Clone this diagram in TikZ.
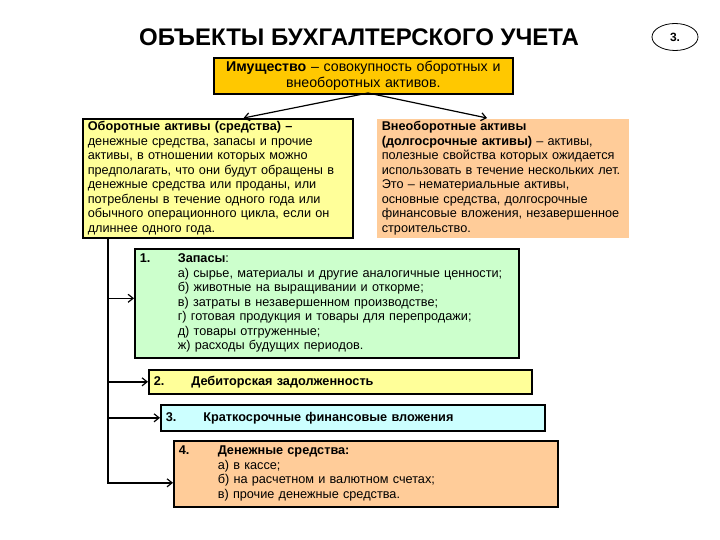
\documentclass[tikz,border=0pt]{standalone}
\usepackage{fontspec}
\setmainfont{Liberation Sans}
\usetikzlibrary{arrows.meta,shapes.geometric}
\definecolor{gold}{HTML}{FFC800}
\definecolor{ltyellow}{HTML}{FFFF99}
\definecolor{peach}{HTML}{FFCC99}
\definecolor{ltgreen}{HTML}{CCFFCC}
\definecolor{ltcyan}{HTML}{CCFFFF}
\newcommand{\bodyfont}{\fontsize{12.7}{14.5}\selectfont}
\tikzset{
  box/.style={draw=black, line width=1.6pt, anchor=north west, inner xsep=5pt, inner ysep=2pt, align=left, font=\bodyfont},
  conn/.style={line width=1.6pt, -{Straight Barb[length=5pt,width=8pt,line width=1.2pt]}},
  split/.style={line width=1.2pt, -{Straight Barb[length=5pt,width=8pt,line width=1.2pt]}},
}
\begin{document}
\begin{tikzpicture}[x=1pt,y=-1pt]
\useasboundingbox (0,0) rectangle (720,540);
% title
\node[font=\fontsize{24}{26}\selectfont\bfseries] (title) at (359,37) {ОБЪЕКТЫ БУХГАЛТЕРСКОГО УЧЕТА};
\node[draw, ellipse, line width=0.8pt, minimum width=46pt, minimum height=27pt, inner sep=0pt, font=\fontsize{12}{14}\selectfont\bfseries] (num) at (675,37) {3.};
% top
\node[box, fill=gold, minimum width=299pt, minimum height=36pt, align=center, text width=289pt, font=\fontsize{14.2}{16}\selectfont] (top) at (213,57)
  {\textbf{Имущество} – совокупность оборотных и\\внеоборотных активов.};
% left
\node[box, fill=ltyellow, minimum width=270pt, minimum height=119pt, text width=260pt] (left) at (82,118)
  {\textbf{Оборотные активы (средства) –}\\
   денежные средства, запасы и прочие\\
   активы, в отношении которых можно\\
   предполагать, что они будут обращены в\\
   денежные средства или проданы, или\\
   потреблены в течение одного года или\\
   обычного операционного цикла, если он\\
   длиннее одного года.};
% right
\node[box, draw=none, fill=peach, minimum width=252pt, minimum height=119pt, text width=242pt] (right) at (376,118)
  {\textbf{Внеоборотные активы}\\
   \textbf{(долгосрочные активы)} – активы,\\
   полезные свойства которых ожидается\\
   использовать в течение нескольких лет.\\
   Это – нематериальные активы,\\
   основные средства, долгосрочные\\
   финансовые вложения, незавершенное\\
   строительство.};
% box 1
\node[box, fill=ltgreen, minimum width=384pt, minimum height=109pt, text width=374pt] (b1) at (134,248)
  {\begin{tabular}{@{}p{38pt}@{}l@{}}
   \textbf{1.} & \textbf{Запасы}:\\
   & а) сырье, материалы и другие аналогичные ценности;\\
   & б) животные на выращивании и откорме;\\
   & в) затраты в незавершенном производстве;\\
   & г) готовая продукция и товары для перепродажи;\\
   & д) товары отгруженные;\\
   & ж) расходы будущих периодов.
   \end{tabular}};
% box 2
\node[box, fill=ltyellow, minimum width=383pt, minimum height=24pt, text width=373pt] (b2) at (148,369)
  {\textbf{2.}\hspace*{27pt}\textbf{Дебиторская задолженность}};
% box 3
\node[box, fill=ltcyan, minimum width=384pt, minimum height=26pt, text width=374pt] (b3) at (160,404)
  {\textbf{3.}\hspace*{27pt}\textbf{Краткосрочные финансовые вложения}};
% box 4
\node[box, fill=peach, minimum width=384pt, minimum height=66pt, text width=374pt] (b4) at (173,440)
  {\begin{tabular}{@{}p{39pt}@{}l@{}}
   \textbf{4.} & \textbf{Денежные средства:}\\
   & а) в кассе;\\
   & б) на расчетном и валютном счетах;\\
   & в) прочие денежные средства.
   \end{tabular}};
% connectors
\coordinate (split) at (368,93);
\coordinate (trunk) at ([xshift=26pt]left.south west);
\draw[split] (split) -- ([xshift=-110pt]left.north east);
\draw[split] (split) -- ([xshift=111pt]right.north west);
\draw[conn] (trunk) |- ([yshift=-9pt]b4.west);
\draw[conn] ([yshift=5pt]trunk |- b1.west) -- ([yshift=5pt]b1.west);
\draw[conn] (trunk |- b2.west) -- (b2.west);
\draw[conn] (trunk |- b3.west) -- (b3.west);
\end{tikzpicture}
\end{document}
